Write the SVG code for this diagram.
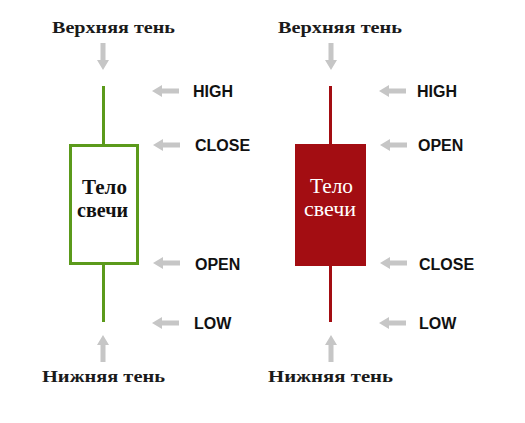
<svg xmlns="http://www.w3.org/2000/svg" width="525" height="423" viewBox="0 0 525 423">
<style>
.t{font-family:"Liberation Serif",serif;font-weight:bold;font-size:17px;fill:#1a1a1a;text-anchor:middle}
.l{font-family:"Liberation Sans",Arial,sans-serif;font-weight:bold;font-size:16px;fill:#111}
.a{fill:#c6c6c6}
.body{font-family:"Liberation Serif",serif;font-size:20px;text-anchor:middle}
</style>
<defs>
<polygon id="al" points="0,0 10,-6 10,-2.5 27,-2.5 27,2.5 10,2.5 10,6"/>
<polygon id="ad" points="0,0 -6,-10 -2.5,-10 -2.5,-27 2.5,-27 2.5,-10 6,-10"/>
<polygon id="au" points="0,0 -6,10 -2.5,10 -2.5,27 2.5,27 2.5,10 6,10"/>
</defs>
<rect width="525" height="423" fill="#fff"/>
<g id="connectors">
<use href="#ad" x="103" y="70" class="a"/>
<use href="#au" x="103" y="335" class="a"/>
<use href="#al" x="152" y="91" class="a"/>
<use href="#al" x="153" y="145" class="a"/>
<use href="#al" x="153" y="263" class="a"/>
<use href="#al" x="152" y="323" class="a"/>
<use href="#ad" x="331" y="70" class="a"/>
<use href="#au" x="331" y="335" class="a"/>
<use href="#al" x="379" y="91" class="a"/>
<use href="#al" x="380" y="145" class="a"/>
<use href="#al" x="380" y="263" class="a"/>
<use href="#al" x="379" y="323" class="a"/>
</g>
<g id="green-candle">
<line x1="103.5" y1="86" x2="103.5" y2="322" stroke="#5b9a1b" stroke-width="3"/>
<rect x="70.5" y="145.5" width="67" height="118" fill="#fff" stroke="#5b9a1b" stroke-width="3"/>
<text class="body" x="104.5" y="194" font-weight="bold" fill="#111" textLength="45" lengthAdjust="spacingAndGlyphs">Тело</text>
<text class="body" x="102.5" y="217" font-weight="bold" fill="#111" textLength="51" lengthAdjust="spacingAndGlyphs">свечи</text>
</g>
<g id="red-candle">
<line x1="330.5" y1="86" x2="330.5" y2="322" stroke="#a30d12" stroke-width="3"/>
<rect x="295" y="144" width="71" height="122" fill="#a30d12"/>
<text class="body" x="331.5" y="193" fill="#fff" textLength="43" lengthAdjust="spacingAndGlyphs">Тело</text>
<text class="body" x="330" y="216" fill="#fff" textLength="52" lengthAdjust="spacingAndGlyphs">свечи</text>
</g>
<g id="labels-left">
<text class="t" x="113.5" y="33" textLength="123" lengthAdjust="spacingAndGlyphs">Верхняя тень</text>
<text class="t" x="103.5" y="382" textLength="123" lengthAdjust="spacingAndGlyphs">Нижняя тень</text>
<text class="l" x="193" y="97">HIGH</text>
<text class="l" x="195" y="151">CLOSE</text>
<text class="l" x="195" y="270">OPEN</text>
<text class="l" x="194" y="329">LOW</text>
</g>
<g id="labels-right">
<text class="t" x="340" y="33" textLength="124" lengthAdjust="spacingAndGlyphs">Верхняя тень</text>
<text class="t" x="330.5" y="382" textLength="125" lengthAdjust="spacingAndGlyphs">Нижняя тень</text>
<text class="l" x="417" y="97">HIGH</text>
<text class="l" x="418" y="151">OPEN</text>
<text class="l" x="419" y="270">CLOSE</text>
<text class="l" x="419" y="329">LOW</text>
</g>
</svg>
